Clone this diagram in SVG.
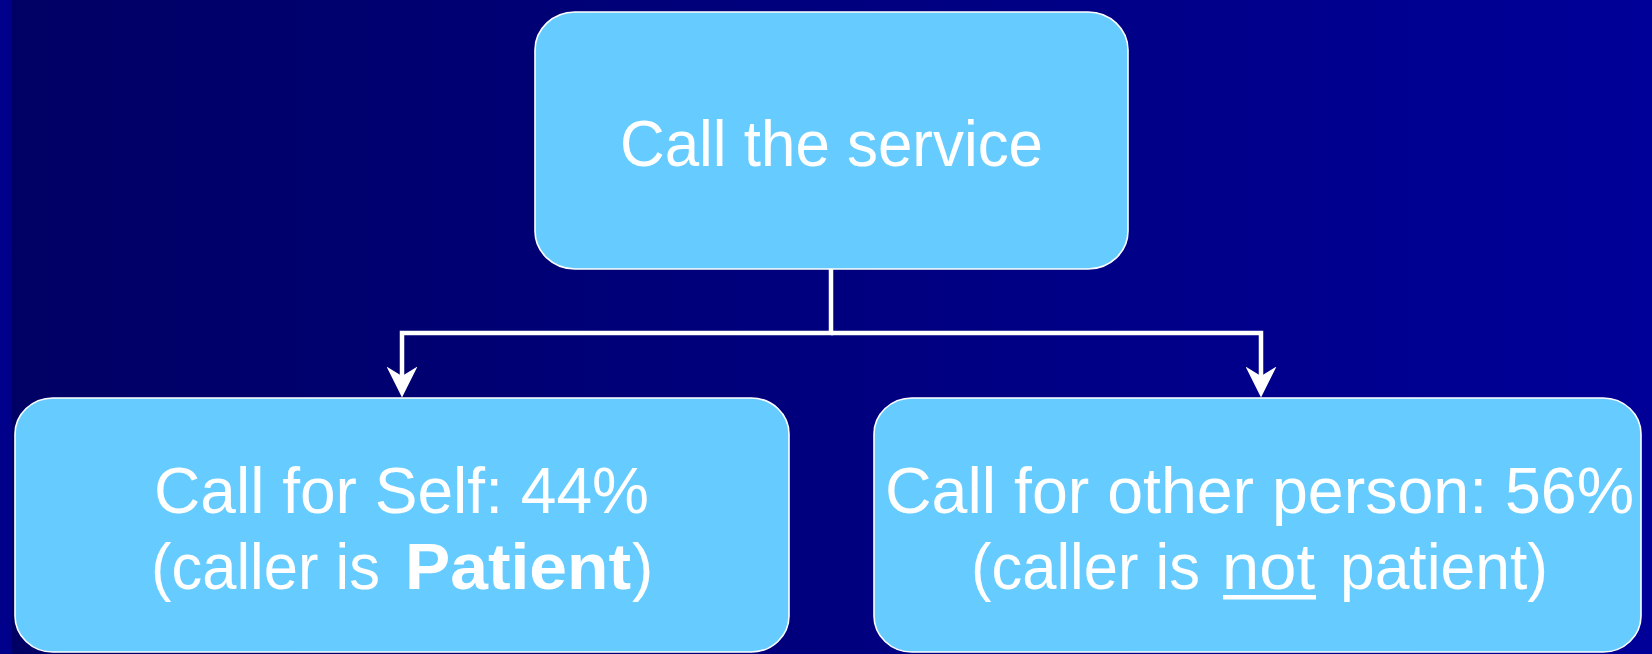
<svg xmlns="http://www.w3.org/2000/svg" width="1652" height="654" viewBox="0 0 1652 654">
  <defs>
    <linearGradient id="bg" x1="0" y1="0" x2="1" y2="0">
      <stop offset="0" stop-color="#000064"/>
      <stop offset="1" stop-color="#000098"/>
    </linearGradient>
    <!-- notched arrowhead, drawn pointing along +x -->
    <marker id="arrow" viewBox="0 0 31 31" refX="9.5" refY="15.5" markerWidth="31" markerHeight="31" markerUnits="userSpaceOnUse" orient="auto">
      <path d="M0,0 L31,15.5 L0,31 L9.5,15.5 Z" fill="#ffffff"/>
    </marker>
  </defs>
  <style>
    .box { fill: #66ccff; stroke: #ffffff; stroke-width: 1.6; }
    .lbl { font-family: "Liberation Sans", Arial, sans-serif; font-size: 64px; fill: #ffffff; }
    .big { font-size: 65px; }
    .b { font-weight: bold; }
    .wire { fill: none; stroke: #ffffff; stroke-width: 4.5; stroke-linejoin: miter; }
  </style>

  <!-- backdrop -->
  <rect x="0" y="0" width="1652" height="654" fill="url(#bg)"/>
  <rect x="0" y="0" width="12" height="654" fill="#00008a"/>

  <!-- connectors -->
  <g id="connectors">
    <path class="wire" d="M831,269 V333 H402 V376" marker-end="url(#arrow)"/>
    <path class="wire" d="M831,333 H1261 V376" marker-end="url(#arrow)"/>
  </g>

  <g id="node-call-service">
    <rect class="box" x="535" y="12" width="593" height="257" rx="40" ry="38"/>
    <text class="lbl big" x="620" y="166" textLength="423" lengthAdjust="spacingAndGlyphs">Call the service</text>
  </g>

  <g id="node-self">
    <rect class="box" x="15" y="398" width="774" height="254" rx="38" ry="36"/>
    <text class="lbl" x="154" y="513" textLength="495" lengthAdjust="spacingAndGlyphs">Call for Self: 44%</text>
    <text class="lbl" x="151" y="589" textLength="229" lengthAdjust="spacingAndGlyphs">(caller is</text>
    <text class="lbl b" x="405" y="589" textLength="226" lengthAdjust="spacingAndGlyphs">Patient</text>
    <text class="lbl" x="632" y="589">)</text>
  </g>

  <g id="node-other">
    <rect class="box" x="874" y="398" width="767" height="254" rx="38" ry="36"/>
    <text class="lbl" x="885" y="513" textLength="749" lengthAdjust="spacingAndGlyphs">Call for other person: 56%</text>
    <text class="lbl" x="971" y="589" textLength="229" lengthAdjust="spacingAndGlyphs">(caller is</text>
    <text class="lbl" x="1222" y="589" textLength="93" lengthAdjust="spacingAndGlyphs">not</text>
    <rect x="1223" y="595" width="93" height="4.5" fill="#ffffff"/>
    <text class="lbl" x="1340" y="589" textLength="208" lengthAdjust="spacingAndGlyphs">patient)</text>
  </g>
</svg>
